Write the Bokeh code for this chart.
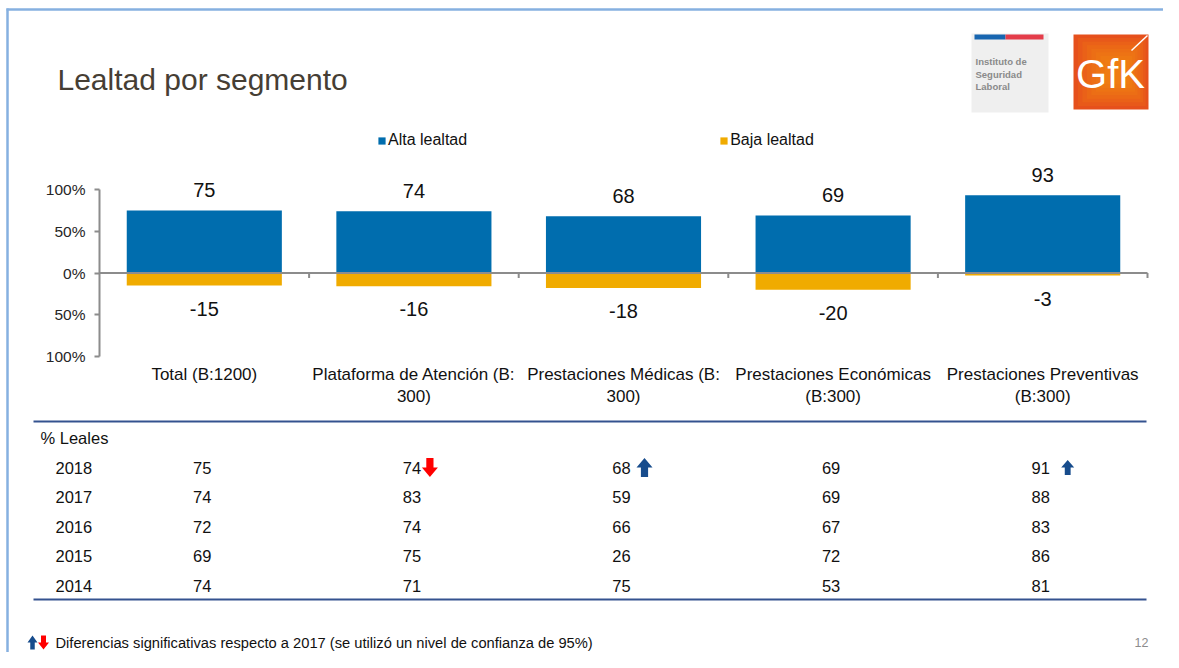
import numpy as np
from bokeh.plotting import figure
from bokeh.models import (Range1d, FixedTicker, ColumnDataSource, Legend, LegendItem)
from bokeh.core.properties import value
from bokeh.embed import file_html
from bokeh.resources import INLINE

# ---------------- data ----------------
categories = ["Total (B:1200)", "Plataforma de Atención (B:\n300)", "Prestaciones Médicas (B:\n300)",
              "Prestaciones Económicas\n(B:300)", "Prestaciones Preventivas\n(B:300)"]
alta_lealtad = [75, 74, 68, 69, 93]
baja_lealtad = [-15, -16, -18, -20, -3]
y_ticks = [-100, -50, 0, 50, 100]
y_tick_labels = ["100%", "50%", "0%", "50%", "100%"]
years = ["2018", "2017", "2016", "2015", "2014"]
leales_2018 = [75, 74, 68, 69, 91]
leales_2017 = [74, 83, 59, 69, 88]
leales_2016 = [72, 74, 66, 67, 83]
leales_2015 = [69, 75, 26, 72, 86]
leales_2014 = [74, 71, 75, 53, 81]
signif_2018 = [0, -1, 1, 0, 1]   # -1 significant drop, +1 significant rise vs 2017

title_text = "Lealtad por segmento"
legend_labels = ["Alta lealtad", "Baja lealtad"]
table_header = "% Leales"
footnote = "Diferencias significativas respecto a 2017 (se utilizó un nivel de confianza de 95%)"
page_number = "12"
isl_lines = ["Instituto de", "Seguridad", "Laboral"]

# ---------------- style / geometry ----------------
FONT = "Liberation Sans"
BLUE = "#006DAE"
GOLD = "#F0AB00"
AXIS_GRAY = "#8C8C8C"
UP_BLUE = "#174C8C"
DOWN_RED = "#FF0000"
TXT = "#111111"

W, H = 1163, 652
CL, CR, CT, CB = 99, 1147, 189, 356       # bar-chart area on the canvas (pixels)
NCAT = len(categories)
XU = NCAT / (CR - CL)                     # data units per pixel
YU = (max(y_ticks) - min(y_ticks)) / (CB - CT)


def X(px):  # canvas pixel -> data x
    return -0.5 + (px - CL) * XU


def Y(py):  # canvas pixel -> data y
    return max(y_ticks) - (py - CT) * YU


p = figure(width=W, height=H, x_range=Range1d(X(0), X(W)), y_range=Range1d(Y(H), Y(0)),
           output_backend="svg", toolbar_location=None,
           min_border_left=0, min_border_right=0, min_border_top=0, min_border_bottom=0,
           outline_line_color=None, background_fill_color="white",
           border_fill_color="white")
p.grid.visible = False

# y axis, fixed at the left edge of the bar area
p.yaxis.fixed_location = X(CL)
p.yaxis.bounds = (min(y_ticks), max(y_ticks))
p.yaxis.ticker = FixedTicker(ticks=y_ticks)
p.yaxis.major_label_overrides = dict(zip(y_ticks, y_tick_labels))
p.yaxis.axis_line_color = AXIS_GRAY
p.yaxis.axis_line_width = 2
p.yaxis.major_tick_line_color = AXIS_GRAY
p.yaxis.major_tick_line_width = 2
p.yaxis.major_tick_out = 5
p.yaxis.major_tick_in = 0
p.yaxis.minor_tick_line_color = None
p.yaxis.major_label_standoff = 9
p.yaxis.major_label_text_font = FONT
p.yaxis.major_label_text_font_size = "15.5px"
p.yaxis.major_label_text_color = "#262626"

# x axis (category names), fixed at the bottom of the bar area
idx = list(range(NCAT))
p.xaxis.fixed_location = min(y_ticks)
p.xaxis.bounds = (-0.5, NCAT - 0.5)
p.xaxis.ticker = FixedTicker(ticks=idx)
p.xaxis.major_label_overrides = dict(zip(idx, categories))
p.xaxis.axis_line_color = None
p.xaxis.major_tick_line_color = None
p.xaxis.major_tick_out = 0
p.xaxis.major_tick_in = 0
p.xaxis.minor_tick_line_color = None
p.xaxis.major_label_standoff = 8
p.xaxis.major_label_text_font = FONT
p.xaxis.major_label_text_font_size = "17px"
p.xaxis.major_label_text_color = TXT

# bars
src = ColumnDataSource(dict(x=idx, alta=alta_lealtad, baja=baja_lealtad,
                            alta_t=[str(v) for v in alta_lealtad],
                            baja_t=[str(v) for v in baja_lealtad]))
r_alta = p.vbar(x="x", top="alta", bottom=0, width=0.74, source=src,
                fill_color=BLUE, line_color=None)
r_baja = p.vbar(x="x", top=0, bottom="baja", width=0.74, source=src,
                fill_color=GOLD, line_color=None)

# zero line and category separators
p.segment(x0=[-0.5], x1=[NCAT - 0.5], y0=[0], y1=[0], line_color=AXIS_GRAY, line_width=2)
bounds = [i + 0.5 for i in idx]
p.segment(x0=bounds, x1=bounds, y0=[0] * NCAT, y1=[-5 * YU] * NCAT,
          line_color=AXIS_GRAY, line_width=2)

# value labels
p.text(x="x", y="alta", text="alta_t", source=src, text_align="center",
       text_baseline="middle", y_offset=-20,
       text_font=value(FONT), text_font_size="20px", text_color=TXT)
p.text(x="x", y="baja", text="baja_t", source=src, text_align="center",
       text_baseline="middle", y_offset=23,
       text_font=value(FONT), text_font_size="20px", text_color=TXT)

# legend
legend = Legend(items=[LegendItem(label=legend_labels[0], renderers=[r_alta]),
                       LegendItem(label=legend_labels[1], renderers=[r_baja])],
                orientation="horizontal", location=(377, H - 149),
                padding=0, margin=0, spacing=252, label_standoff=2,
                glyph_width=9, glyph_height=9, label_height=17,
                border_line_color=None, background_fill_alpha=0,
                label_text_font=FONT, label_text_font_size="16px",
                label_text_color=TXT)
p.add_layout(legend)

# ---------------- slide decorations ----------------
FRAME = "#86B0E0"
p.segment(x0=[X(6), X(7)], x1=[X(W + 5), X(7)], y0=[Y(9), Y(8)], y1=[Y(9), Y(H + 5)],
          line_color=FRAME, line_width=2.5)

# title
p.text(x=[X(57)], y=[Y(79)], text=[title_text], text_font=value(FONT),
       text_font_size="30px", text_color="#463E34", text_baseline="middle")

# ISL logo
p.quad(left=[X(971)], right=[X(1048)], top=[Y(33)], bottom=[Y(112)],
       fill_color="#EFEFEF", line_color=None)
p.quad(left=[X(974), X(1005)], right=[X(1005), X(1043)], top=[Y(34)] * 2, bottom=[Y(39)] * 2,
       fill_color=["#1866B0", "#E43D4A"], line_color=None)
p.text(x=[X(975)] * 3, y=[Y(61 + 12.5 * i) for i in range(3)], text=isl_lines,
       text_font=value(FONT), text_font_size="9.5px", text_font_style="bold",
       text_color="#8A8A8A", text_baseline="middle")

# GfK logo (orange square with soft radial glow)
p.quad(left=[X(1073)], right=[X(1148)], top=[Y(34)], bottom=[Y(109)],
       fill_color="#E6501C", line_color=None)
ins = [4.5 * k for k in range(1, 8)]
p.quad(left=[X(1073 + d) for d in ins], right=[X(1148 - 0.6 * d) for d in ins],
       top=[Y(34 + 0.8 * d) for d in ins], bottom=[Y(109 - 0.8 * d) for d in ins],
       fill_color="#F59A10", fill_alpha=0.13, line_color=None)
p.text(x=[X(1110)], y=[Y(73)], text=["GfK"], text_font=value(FONT), text_font_size="40px",
       text_color="white", text_align="center", text_baseline="middle")
p.segment(x0=[X(1131)], y0=[Y(50)], x1=[X(1147)], y1=[Y(35)], line_color="white", line_width=1.5)

# ---------------- table ----------------
TABLE_LINE = "#34528F"
p.segment(x0=[X(33)] * 2, x1=[X(1146)] * 2, y0=[Y(421), Y(599)], y1=[Y(421), Y(599)],
          line_color=TABLE_LINE, line_width=2)
p.text(x=[X(40)], y=[Y(437)], text=[table_header], text_font=value(FONT),
       text_font_size="16.5px", text_color=TXT, text_baseline="middle")

table_rows = [leales_2018, leales_2017, leales_2016, leales_2015, leales_2014]
row_y = [Y(467 + 29.5 * r) for r in range(len(years))]
tx, ty, tt = [], [], []
for r, row in enumerate(table_rows):
    for c, v in enumerate(row):
        tx.append(c)
        ty.append(row_y[r])
        tt.append(str(v))
p.text(x=tx, y=ty, text=tt, text_align="center", text_baseline="middle", x_offset=-2,
       text_font=value(FONT), text_font_size="16.5px", text_color=TXT)
p.text(x=[X(55)] * len(years), y=row_y, text=years, text_align="left", text_baseline="middle",
       text_font=value(FONT), text_font_size="16.5px", text_color=TXT)


def arrow_poly(cx, cy, direction, w, h):
    """Block arrow centred on data point (cx, cy); sizes in pixels."""
    s = w * 0.45
    hh = h * 0.5
    pts = [(-s / 2, -h / 2), (s / 2, -h / 2), (s / 2, h / 2 - hh), (w / 2, h / 2 - hh),
           (0, h / 2), (-w / 2, h / 2 - hh), (-s / 2, h / 2 - hh)]
    if direction > 0:
        pts = [(a, -b) for a, b in pts]
    return [cx + a * XU for a, b in pts], [cy - b * YU for a, b in pts]


# arrow placement style per column: (pixel offset from column centre, width, height)
arrow_style = {1: (16, 16, 19), 2: (21, 16, 19), 4: (25, 13, 15)}
axs, ays, acol = [], [], []
for c, d in enumerate(signif_2018):
    if d == 0:
        continue
    off, w, h = arrow_style.get(c, (20, 16, 19))
    xs, ys = arrow_poly(c + off * XU, row_y[0], d, w, h)
    axs.append(xs)
    ays.append(ys)
    acol.append(UP_BLUE if d > 0 else DOWN_RED)

# footnote arrows
FOOT_Y = 642
for cxp, d, w in [(32, 1, 10), (43, -1, 11)]:
    xs, ys = arrow_poly(X(cxp), Y(FOOT_Y), d, w, 14)
    axs.append(xs)
    ays.append(ys)
    acol.append(UP_BLUE if d > 0 else DOWN_RED)
p.patches(xs=axs, ys=ays, fill_color=acol, line_color=None)

p.text(x=[X(55)], y=[Y(FOOT_Y)], text=[footnote], text_font=value(FONT),
       text_font_size="14.7px", text_color=TXT, text_baseline="middle")
p.text(x=[X(1148)], y=[Y(FOOT_Y)], text=[page_number], text_font=value(FONT),
       text_font_size="12.5px", text_color="#8C8C8C", text_align="right", text_baseline="middle")

open("out.html", "w").write(file_html(p, INLINE))
